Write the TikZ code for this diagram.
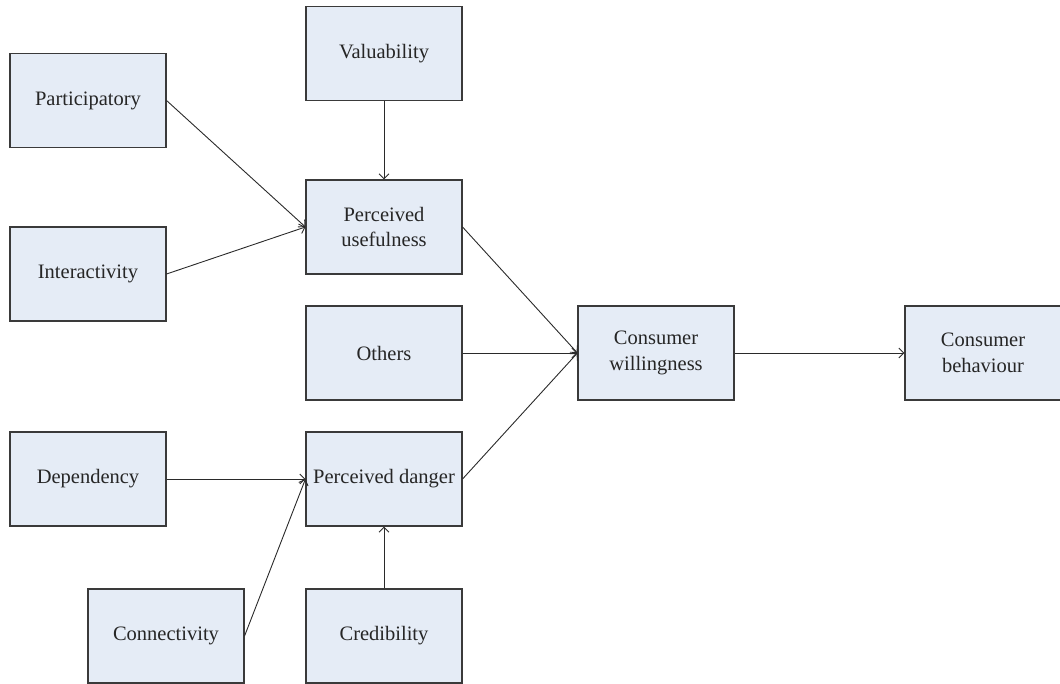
\documentclass[tikz,border=0pt]{standalone}
\usepackage{fontspec}
\setmainfont{Liberation Serif}
\usetikzlibrary{arrows.meta}
\definecolor{boxfill}{HTML}{E5ECF6}
\definecolor{boxline}{HTML}{3A3A3A}
\definecolor{arrowline}{HTML}{2A2A2A}
\tikzset{
  fbox/.style={draw=boxline, line width=1.1pt, fill=boxfill, minimum width=156pt, minimum height=94pt,
    inner sep=0pt, align=center, font=\fontsize{20.5}{25.5}\selectfont, text=black!85},
  conn/.style={draw=arrowline, line width=0.9pt, -{Straight Barb[length=5pt,width=10pt,line width=0.9pt]}}
}
\begin{document}
\begin{tikzpicture}[x=1pt,y=-1pt]
\useasboundingbox (0,0) rectangle (1060,684);
\node[fbox] (val) at (384,53.5) {Valuability};
\node[fbox] (par) at (88,100.5) {Participatory};
\node[fbox] (pu) at (384,227) {Perceived\\usefulness};
\node[fbox] (int) at (88,274) {Interactivity};
\node[fbox] (oth) at (384,353) {Others};
\node[fbox] (cw) at (656,353) {Consumer\\willingness};
\node[fbox] (cb) at (983,353) {Consumer\\behaviour};
\node[fbox] (dep) at (88,479) {Dependency};
\node[fbox] (pd) at (384,479) {Perceived danger};
\node[fbox] (con) at (166,636) {Connectivity};
\node[fbox] (cre) at (384,636) {Credibility};
\draw[conn] (par.east) -- (pu.west);
\draw[conn] (int.east) -- (pu.west);
\draw[conn] (val.south) -- (pu.north);
\draw[conn] (pu.east) -- (cw.west);
\draw[conn] (oth.east) -- (cw.west);
\draw[conn] (pd.east) -- (cw.west);
\draw[conn] (cw.east) -- (cb.west);
\draw[conn] (dep.east) -- (pd.west);
\draw[conn] (con.east) -- (pd.west);
\draw[conn] (cre.north) -- (pd.south);
\end{tikzpicture}
\end{document}
